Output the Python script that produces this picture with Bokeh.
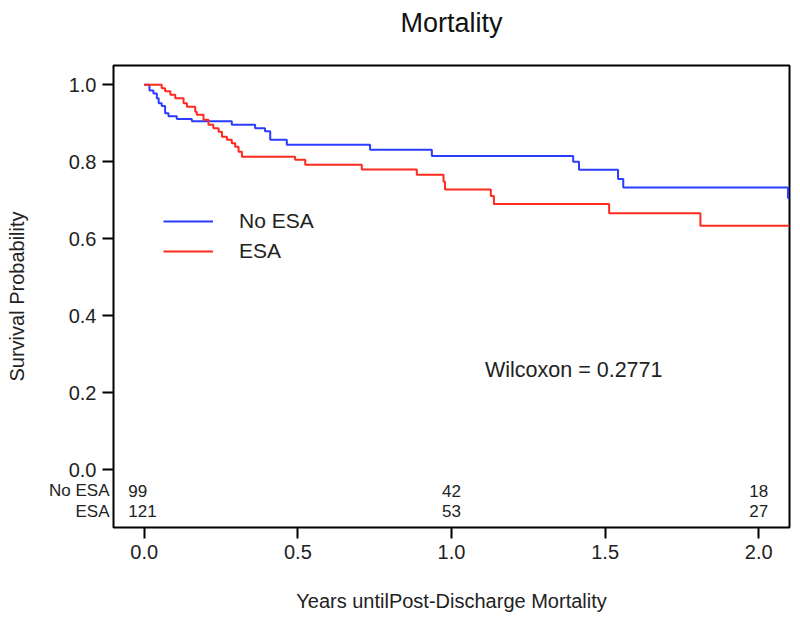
from bokeh.plotting import figure
from bokeh.models import (ColumnDataSource, FixedTicker, PrintfTickFormatter, Label,
                          Legend, LegendItem, Range1d, LinearAxis)
from bokeh.core.properties import value
from bokeh.embed import file_html
from bokeh.resources import INLINE

# --- data ---
no_esa_time = [0.0, 0.017, 0.030, 0.041, 0.047, 0.057, 0.068, 0.079, 0.106, 0.155,
               0.285, 0.361, 0.393, 0.410, 0.464, 0.735, 0.936, 1.396, 1.415, 1.542,
               1.559, 2.095, 2.1]
no_esa_surv = [1.0, 0.985, 0.977, 0.965, 0.952, 0.945, 0.926, 0.918, 0.911, 0.905,
               0.896, 0.887, 0.879, 0.857, 0.844, 0.831, 0.815, 0.800, 0.779, 0.755,
               0.733, 0.706, 0.706]
esa_time = [0.0, 0.057, 0.068, 0.085, 0.101, 0.128, 0.139, 0.166, 0.171, 0.193,
            0.209, 0.225, 0.242, 0.253, 0.269, 0.285, 0.296, 0.307, 0.318, 0.491,
            0.524, 0.708, 0.887, 0.974, 0.979, 1.128, 1.138, 1.513, 1.810, 2.1]
esa_surv = [1.0, 0.991, 0.983, 0.974, 0.965, 0.952, 0.943, 0.930, 0.922, 0.909,
            0.896, 0.887, 0.878, 0.865, 0.857, 0.848, 0.839, 0.826, 0.813, 0.805,
            0.792, 0.780, 0.766, 0.748, 0.728, 0.711, 0.690, 0.666, 0.634, 0.634]

risk_times = [0.0, 1.0, 2.0]
risk_no_esa = [99, 42, 18]
risk_esa = [121, 53, 27]
group_names = ["No ESA", "ESA"]
risk_rows_y = [-0.054, -0.108]

x_ticks = [0.0, 0.5, 1.0, 1.5, 2.0]
y_ticks = [0.0, 0.2, 0.4, 0.6, 0.8, 1.0]

title_text = "Mortality"
x_label = "Years untilPost-Discharge Mortality"
y_label = "Survival Probability"
test_text = "Wilcoxon = 0.2771"

FONT = "Liberation Sans"
BLUE = "#2a3cff"
RED = "#ff2a1f"
TXT = "#222222"

p = figure(width=792, height=617, output_backend="svg", toolbar_location=None,
           x_range=Range1d(-0.1, 2.1), y_range=Range1d(-0.15, 1.05),
           min_border_left=113, min_border_right=3, min_border_top=65,
           min_border_bottom=90)
p.title.visible = False
p.grid.visible = False
p.background_fill_color = "white"
p.border_fill_color = "white"
p.outline_line_color = "black"
p.outline_line_width = 2

r_no = p.step(no_esa_time, no_esa_surv, mode="after", line_color=BLUE, line_width=2)
r_esa = p.step(esa_time, esa_surv, mode="after", line_color=RED, line_width=2)

legend = Legend(items=[LegendItem(label=group_names[0], renderers=[r_no]),
                       LegendItem(label=group_names[1], renderers=[r_esa])],
                location=(50, 264), orientation="vertical",
                border_line_color=None, background_fill_alpha=0,
                padding=0, margin=0, spacing=6, glyph_width=50, glyph_height=24,
                label_height=24, label_standoff=26,
                label_text_font=FONT, label_text_font_size="21px",
                label_text_color=TXT)
p.add_layout(legend)

for ax in (p.xaxis[0], p.yaxis[0]):
    ax.axis_line_color = None
    ax.major_tick_out = 11
    ax.major_tick_in = 0
    ax.major_tick_line_width = 2
    ax.major_tick_line_color = "black"
    ax.minor_tick_line_color = None
    ax.major_label_text_font = FONT
    ax.major_label_text_font_size = "20px"
    ax.major_label_text_color = TXT
    ax.axis_label_text_font = FONT
    ax.axis_label_text_font_size = "20px"
    ax.axis_label_text_font_style = "normal"
    ax.axis_label_text_color = TXT
    ax.formatter = PrintfTickFormatter(format="%.1f")

p.xaxis.ticker = FixedTicker(ticks=x_ticks)
p.yaxis.ticker = FixedTicker(ticks=y_ticks)
p.xaxis.axis_label = x_label
p.xaxis.major_label_standoff = 6
p.yaxis.major_label_standoff = 6
p.xaxis.axis_label_standoff = 28

# chart title, carried by a tickless axis above the frame
title_axis = LinearAxis(ticker=FixedTicker(ticks=[]), axis_line_color=None,
                        major_tick_out=0, major_tick_in=0, minor_tick_line_color=None,
                        major_label_standoff=0, axis_label=title_text,
                        axis_label_standoff=28, axis_label_text_font=FONT,
                        axis_label_text_font_size="27px",
                        axis_label_text_font_style="normal",
                        axis_label_text_color="#111111")
p.add_layout(title_axis, "above")

# outer left axis: row names of the number-at-risk table, plus the y title
row_axis = LinearAxis(ticker=FixedTicker(ticks=risk_rows_y),
                      major_label_overrides={risk_rows_y[i]: group_names[i]
                                             for i in range(len(group_names))},
                      axis_line_color=None, major_tick_line_color=None,
                      minor_tick_line_color=None, major_tick_out=0, major_tick_in=0,
                      major_label_standoff=-44, major_label_text_font=FONT,
                      major_label_text_font_size="17px", major_label_text_color=TXT,
                      axis_label=y_label, axis_label_standoff=18,
                      axis_label_text_font=FONT, axis_label_text_font_size="20px",
                      axis_label_text_font_style="normal", axis_label_text_color=TXT)
p.add_layout(row_axis, "left")

# test statistic
p.add_layout(Label(x=1.109, y=0.258, text=test_text, text_align="left",
                   text_baseline="alphabetic", text_font=FONT, text_font_size="21.5px",
                   text_color=TXT))

# number at risk table
aligns = ["left", "center", "center"]
offsets = [-16, 0, 0]
for counts, yrow in zip([risk_no_esa, risk_esa], risk_rows_y):
    src = ColumnDataSource(dict(x=risk_times, y=[yrow] * len(risk_times),
                                t=[str(c) for c in counts], a=aligns, o=offsets))
    p.text(x="x", y="y", text="t", source=src, text_align="a", x_offset="o",
           text_baseline="middle", text_font=value(FONT), text_font_size="17px",
           text_color=TXT)

open("out.html", "w").write(file_html(p, INLINE))
